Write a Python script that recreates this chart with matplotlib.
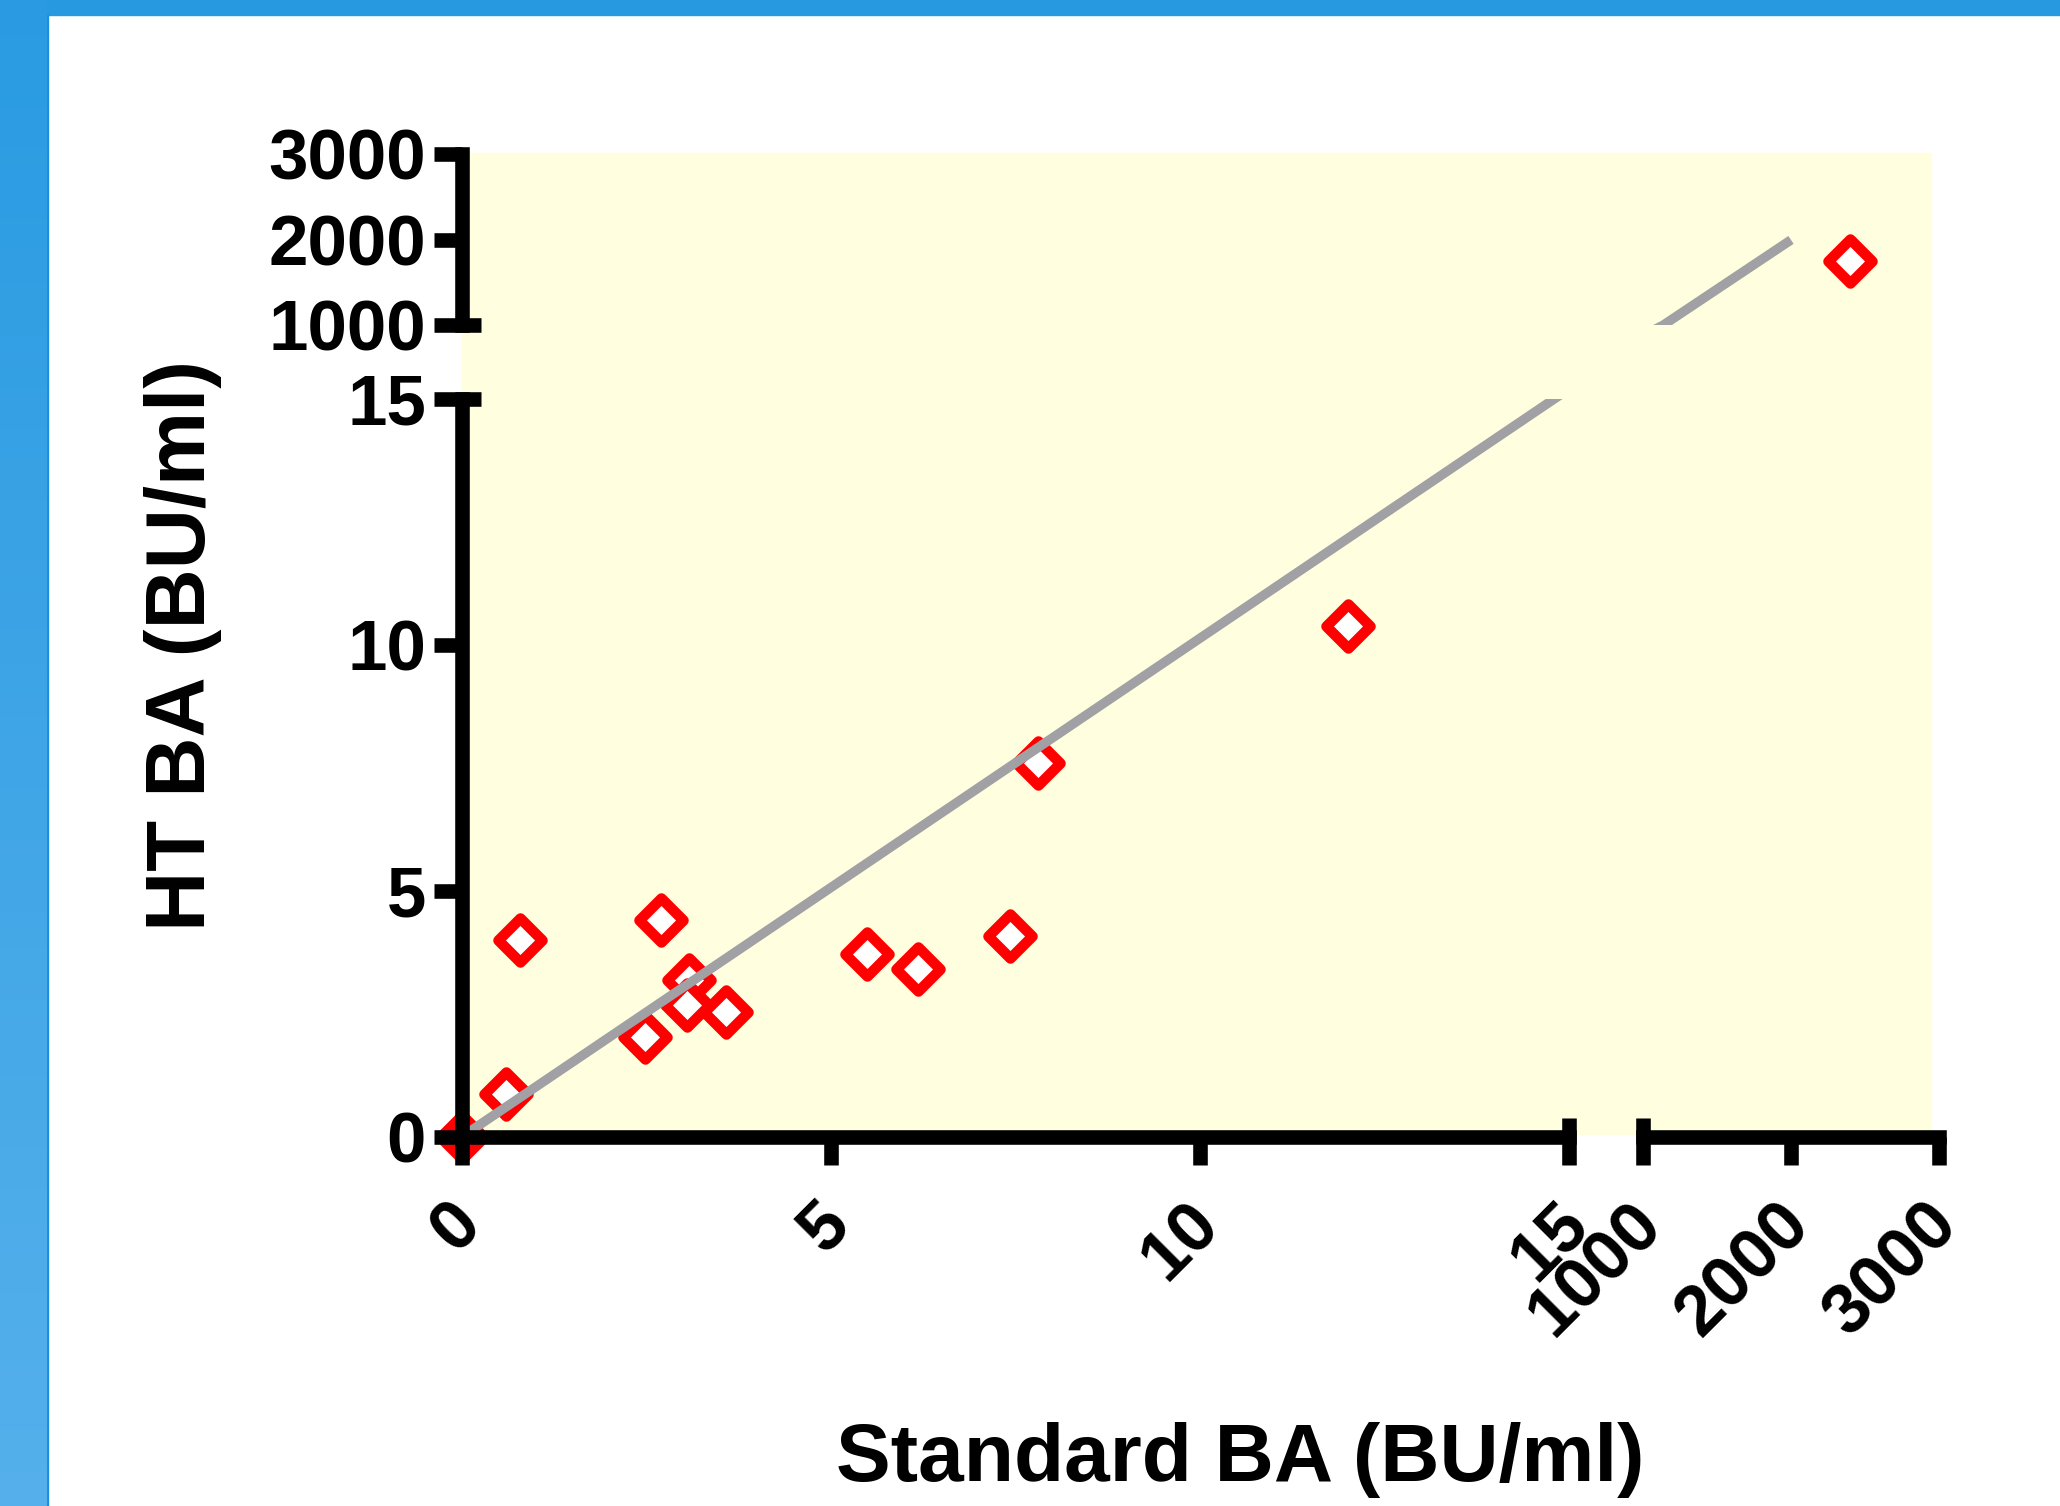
import matplotlib
matplotlib.use("Agg")
import matplotlib.pyplot as plt
import numpy as np
from matplotlib.patches import Rectangle
from matplotlib.ticker import FixedLocator
from matplotlib.markers import MarkerStyle
from matplotlib.transforms import ScaledTranslation
from matplotlib.colors import LinearSegmentedColormap

# ---------------- data ----------------
standard_ba = [0.0, 0.59, 0.79, 2.48, 2.70, 3.08, 3.05, 3.58, 5.49, 6.18, 7.42, 7.81, 12.0, 2400.0]
ht_ba = [0.0, 0.87, 4.00, 2.03, 4.41, 3.19, 2.68, 2.53, 3.71, 3.40, 4.07, 7.59, 10.39, 1755.0]
fit_x = [0.0, 15.0, 1135.0, 2000.0]
fit_y = [0.0, 15.2, 1000.0, 2000.0]
lower_range = (0, 15)
upper_range = (1000, 3000)
lower_ticks = [0, 5, 10, 15]
upper_ticks = [1000, 2000, 3000]
x_label = "Standard BA (BU/ml)"
y_label = "HT BA (BU/ml)"

# ---------------- style ----------------
FONT = ["Liberation Sans", "DejaVu Sans"]
plt.rcParams["font.family"] = FONT
plt.rcParams["font.weight"] = "bold"
W, H = 2060, 1506
fig = plt.figure(figsize=(W / 100, H / 100), dpi=100)
fig.patch.set_facecolor("white")

def fx(px):
    return px / W

def fy(py):
    return 1 - py / H

LW = 10.5
TICK_LEN = 20
CAP_LEN = 13.7
LABEL_SIZE = 51
MARK_COLOR = "#ff0000"
LINE_COLOR = "#a0a0a5"
BG_COLOR = "#ffffdf"

# blue frame decoration
grad_ax = fig.add_axes([0, 0, fx(47), 1])
grad = np.linspace(0, 1, 256).reshape(-1, 1)
cmap = LinearSegmentedColormap.from_list("b", ["#2a9be2", "#55b0eb"])
grad_ax.imshow(grad, aspect="auto", cmap=cmap, extent=[0, 1, 0, 1], origin="upper")
grad_ax.set_axis_off()
fig.patches.append(Rectangle((0, fy(15)), 1, 15 / H, transform=fig.transFigure,
                             color="#2799e1", zorder=-1))
fig.patches.append(Rectangle((fx(45), 0), fx(3), fy(15), transform=fig.transFigure,
                             color="#1b8fe0", zorder=-1))

# plot area background
fig.patches.append(Rectangle((fx(462), fy(1134)), fx(1931) - fx(462), fy(153) - fy(1134),
                             transform=fig.transFigure, color=BG_COLOR, zorder=-1))

# axes geometry (pixels)
xl = (462, 1569)
xh = (1643, 1939)
yl = (1136.7, 398.8)
yh = (325.3, 154.5)

def mk(xp, yp):
    return fig.add_axes([fx(xp[0]), fy(yp[0]), fx(xp[1]) - fx(xp[0]), fy(yp[1]) - fy(yp[0])])

ax_bl = mk(xl, yl)
ax_br = mk(xh, yl)
ax_tl = mk(xl, yh)
ax_tr = mk(xh, yh)

diamond = MarkerStyle("D", joinstyle="round")

for ax, xr, yr in [(ax_bl, lower_range, lower_range), (ax_br, upper_range, lower_range),
                   (ax_tl, lower_range, upper_range), (ax_tr, upper_range, upper_range)]:
    ax.set_xlim(*xr)
    ax.set_ylim(*yr)
    ax.set_facecolor("none")
    ax.set_axisbelow(False)
    for s in ax.spines.values():
        s.set_visible(False)
        s.set_linewidth(LW)
        s.set_capstyle("projecting")
    ax.tick_params(which="both", bottom=False, left=False, top=False, right=False,
                   labelbottom=False, labelleft=False)
    xs = np.array(standard_ba)
    ys = np.array(ht_ba)
    sel = (xs >= xr[0] - 1e-9) & (xs <= xr[1]) & (ys >= yr[0] - 1e-9) & (ys <= yr[1])
    ax.plot(xs[sel], ys[sel], linestyle="none", marker=diamond, markersize=22,
            markeredgewidth=7.6, markeredgecolor=MARK_COLOR, markerfacecolor="white",
            clip_on=False, zorder=1.5)
    ax.plot(fit_x, fit_y, color=LINE_COLOR, linewidth=6.8, solid_capstyle="butt", zorder=2)

def style_xaxis(ax, ticks, cap):
    ax.spines["bottom"].set_visible(True)
    ax.set_xticks(ticks)
    ax.set_xticklabels([str(t) for t in ticks])
    ax.tick_params(axis="x", which="major", bottom=True, labelbottom=True, direction="out",
                   length=TICK_LEN, width=LW, labelsize=LABEL_SIZE, pad=36)
    ax.xaxis.set_minor_locator(FixedLocator([cap]))
    ax.xaxis.remove_overlapping_locs = False
    ax.tick_params(axis="x", which="minor", bottom=True, direction="in",
                   length=CAP_LEN, width=LW)
    off = ScaledTranslation(9 / 100, 0, fig.dpi_scale_trans)
    for lab in ax.get_xticklabels():
        lab.set_rotation(45)
        lab.set_ha("right")
        lab.set_va("center")
        lab.set_rotation_mode("anchor")
        lab.set_fontweight("bold")
        lab.set_family(FONT)
        lab.set_transform(lab.get_transform() + off)

def style_yaxis(ax, ticks, cap):
    ax.spines["left"].set_visible(True)
    ax.set_yticks(ticks)
    ax.set_yticklabels([str(t) for t in ticks])
    ax.tick_params(axis="y", which="major", left=True, labelleft=True, direction="out",
                   length=TICK_LEN, width=LW, labelsize=LABEL_SIZE, pad=6)
    ax.yaxis.set_minor_locator(FixedLocator([cap]))
    ax.yaxis.remove_overlapping_locs = False
    ax.tick_params(axis="y", which="minor", left=True, direction="in",
                   length=CAP_LEN, width=LW)
    for lab in ax.get_yticklabels():
        lab.set_fontweight("bold")
        lab.set_family(FONT)

style_xaxis(ax_bl, lower_ticks, lower_range[1])
style_yaxis(ax_bl, lower_ticks, lower_range[1])
style_xaxis(ax_br, upper_ticks, upper_range[0])
style_yaxis(ax_tl, upper_ticks, upper_range[0])
ax_tr.set_xticks([])
ax_tr.set_yticks([])
ax_tl.set_xticks([])
ax_br.set_yticks([])

# axis titles
fig.text(fx(1240), fy(1481), x_label, ha="center", va="baseline", fontsize=59,
         fontweight="bold", family=FONT)
fig.text(fx(205), fy(645), y_label, ha="center", va="baseline", rotation=90,
         rotation_mode="anchor", fontsize=60, fontweight="bold", family=FONT)

fig.savefig("out.png", dpi=100)
